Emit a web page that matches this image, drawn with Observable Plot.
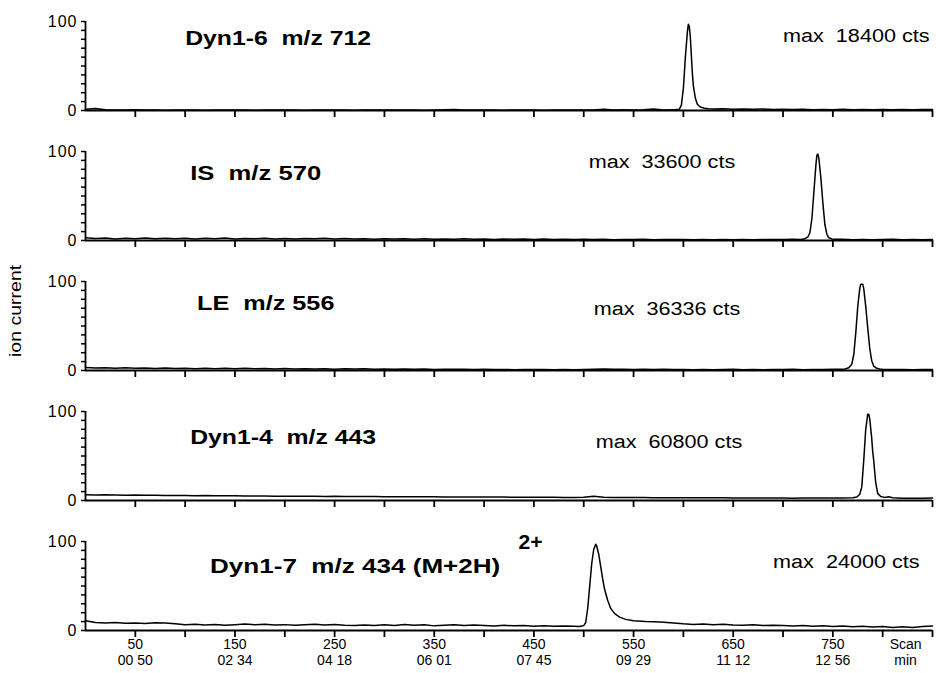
<!DOCTYPE html>
<html>
<head>
<meta charset="utf-8">
<script src="https://cdn.jsdelivr.net/npm/d3@7"></script>
<script src="https://cdn.jsdelivr.net/npm/@observablehq/plot@0.6"></script>
<style>
  body { margin: 0; background: #fff; }
  #chart { width: 936px; }
  #chart svg { display: block; }
  #chart svg text { white-space: pre; }
  g[aria-label="y-axis tick label"] text { letter-spacing: 1px; }
</style>
</head>
<body>
<div id="chart"></div>
<script>
// Scan axis: tick marks every 50 scans, labels with retention time (min sec) every 100
const scanTicks = [50, 100, 150, 200, 250, 300, 350, 400, 450, 500, 550, 600, 650, 700, 750, 800, 850];
const labelledScans = [50, 150, 250, 350, 450, 550, 650, 750];
const timeLabels = ["00 50", "02 34", "04 18", "06 01", "07 45", "09 29", "11 12", "12 56"];
const unitsScan = 823;
const unitLabels = ["Scan", "min"];
const yTicks = [0, 10, 20, 30, 40, 50, 60, 70, 80, 90, 100];

const panelTitles = ["Dyn1-6  m/z 712", "IS  m/z 570", "LE  m/z 556", "Dyn1-4  m/z 443", "Dyn1-7  m/z 434 (M+2H)"];
const chargeLabel = "2+";
const maxLabels = ["max  18400 cts", "max  33600 cts", "max  36336 cts", "max  60800 cts", "max  24000 cts"];
const yLabel = "ion current";

// Baselines sampled every 10 scans (0..850); null where the peak profile takes over
const dyn16Baseline = [
  1.5, 2.2, 0.9, 0.7, 0.5, 0.8, 0.5, 0.6, 0.4, 0.7,
  0.5, 0.6, 0.4, 0.6, 0.5, 0.7, 0.5, 0.4, 0.6, 0.5,
  0.5, 0.6, 0.4, 0.5, 0.7, 0.5, 0.6, 0.4, 0.5, 0.6,
  0.5, 0.7, 0.5, 0.6, 0.4, 0.6, 0.9, 1.1, 0.6, 0.5,
  0.6, 0.5, 0.4, 0.6, 0.5, 0.6, 0.4, 0.6, 0.5, 0.7,
  0.6, 0.5, 1.4, 0.6, 0.8, 0.6, 0.9, 1.6, 0.7, 0.8,
  null, null, null, 1.6, 1.9, 1.4, 1.8, 1.3, 1.7, 1.2,
  1.5, 1.0, 1.4, 0.9, 1.2, 0.8, 1.3, 0.9, 1.1, 0.8,
  1.2, 0.8, 1.0, 0.9, 1.1, 1.0
];
const dyn16Peak = [
  [592, 0.8], [596, 1.5], [598, 6], [600, 25], [602, 60], [604, 88], [605, 97], [606, 94],
  [607, 82], [608, 62], [609, 42], [610, 28], [612, 14], [614, 7], [617, 4], [621, 2.5], [625, 2]
];

const isBaseline = [
  3.0, 2.2, 2.8, 1.8, 2.6, 2.0, 2.7, 1.9, 2.5, 2.1,
  2.6, 1.8, 2.4, 2.0, 2.7, 1.7, 2.3, 2.0, 2.5, 1.8,
  2.2, 1.6, 2.3, 1.9, 2.4, 1.6, 2.2, 1.8, 2.0, 1.5,
  2.1, 1.6, 1.9, 1.4, 2.0, 1.5, 1.8, 1.3, 1.9, 1.4,
  1.7, 1.2, 1.8, 1.3, 1.6, 1.1, 1.7, 1.2, 1.5, 1.1,
  1.4, 1.0, 1.3, 0.9, 1.2, 1.0, 1.3, 0.9, 1.1, 1.0,
  1.2, 0.9, 1.1, 0.8, 1.0, 0.9, 1.1, 0.8, 1.0, 1.2,
  1.1, 1.3, null, null, null, null, 1.3, 0.9, 1.1, 0.8,
  1.0, 1.4, 0.8, 1.2, 0.9, 1.1
];
const isPeak = [
  [718, 1.2], [722, 2], [725, 4], [727, 9], [729, 25], [731, 55], [733, 85], [734, 96], [735, 97],
  [736, 92], [738, 70], [740, 42], [742, 18], [744, 7], [746, 3], [749, 1.8], [752, 1.3]
];

const leBaseline = [
  3.5, 2.8, 3.2, 2.5, 3.0, 2.4, 2.9, 2.2, 2.7, 2.3,
  2.6, 2.0, 2.5, 2.1, 2.6, 1.9, 2.4, 2.0, 2.3, 1.8,
  2.2, 1.7, 2.1, 1.8, 2.0, 1.5, 1.9, 1.6, 2.0, 1.5,
  1.8, 1.4, 1.7, 1.3, 1.6, 1.2, 1.5, 1.3, 1.4, 1.1,
  1.3, 1.0, 1.2, 0.9, 1.1, 1.0, 1.2, 0.8, 1.0, 0.9,
  1.1, 1.4, 1.6, 1.3, 1.5, 1.2, 1.4, 1.1, 1.3, 1.0,
  1.2, 0.9, 1.1, 0.8, 1.0, 1.3, 0.9, 1.1, 0.8, 1.2,
  1.0, 1.3, 0.9, 1.2, 1.0, 1.4, 1.5, null, null, null,
  1.3, 1.0, 1.2, 0.9, 1.1, 1.0
];
const lePeak = [
  [762, 1.6], [766, 3], [769, 7], [771, 18], [773, 42], [775, 72], [777, 92], [778, 97], [780, 97],
  [781, 92], [783, 72], [785, 48], [787, 25], [789, 11], [791, 5], [794, 2.5], [797, 1.6]
];

const dyn14Baseline = [
  6.5, 6.3, 6.4, 6.1, 6.0, 6.1, 5.8, 5.9, 5.7, 5.6,
  5.6, 5.4, 5.5, 5.3, 5.2, 5.3, 5.1, 5.0, 5.1, 4.9,
  4.9, 4.8, 4.8, 4.7, 4.6, 4.7, 4.5, 4.5, 4.4, 4.4,
  4.3, 4.3, 4.2, 4.2, 4.1, 4.1, 4.0, 4.0, 3.9, 3.9,
  3.9, 3.8, 3.8, 3.7, 3.7, 3.7, 3.6, 3.6, 3.5, 3.5,
  3.6, 4.8, 3.6, 3.4, 3.4, 3.3, 3.3, 3.2, 3.2, 3.1,
  3.1, 3.1, 3.0, 3.0, 3.0, 2.9, 2.9, 2.9, 2.8, 2.8,
  2.8, 2.5, 2.9, 2.8, 2.7, 2.7, 2.8, null, null, null,
  null, null, 2.6, 2.5, 2.6, 2.8
];
const dyn14Peak = [
  [770, 3], [774, 4], [777, 7], [779, 15], [781, 45], [783, 80], [785, 97], [786, 97], [787, 92],
  [789, 70], [790, 55], [791, 45], [793, 20], [795, 8], [798, 4.5], [802, 3.5], [806, 4.2], [810, 3.0]
];

const dyn17Baseline = [
  11, 9, 8.5, 9, 8.2, 8.5, 8.0, 8.8, 8.3, 7.5,
  6.5, 7.0, 6.2, 6.8, 6.0, 6.5, 7.2, 6.4, 6.9, 6.1,
  6.6, 5.8, 6.4, 7.0, 6.2, 6.8, 6.0, 5.5, 6.3, 5.7,
  6.4, 5.6, 6.8, 5.9, 6.5, 5.2, 5.8, 6.4, 5.5, 6.2,
  5.6, 5.0, 5.8, 5.2, 5.6, 4.8, 5.3, 4.7, 5.1, 4.8,
  null, null, null, null, null, null, null, null, null, null,
  7.5, 6.8, 7.2, 6.5, 6.9, 6.2, 5.8, 6.4, 5.6, 6.0,
  5.5, 5.0, 5.6, 4.8, 5.2, 4.5, 5.0, 4.2, 4.8, 4.0,
  4.5, 3.5, 4.2, 3.4, 4.5, 5.0
];
const dyn17Peak = [
  [496, 4.6], [500, 5.5], [502, 9], [504, 25], [506, 50], [508, 75], [510, 91], [512, 97], [513, 95],
  [515, 86], [517, 72], [519, 58], [521, 46], [524, 34], [527, 25], [531, 19], [536, 15], [542, 12.5],
  [550, 11], [562, 10], [577, 9.5], [590, 8.5]
];

// Sampling grid of the baselines
const sampleScans = d3.range(0, 851, 10);

function trace(baseline, peak) {
  const pts = sampleScans
    .map((scan, i) => ({scan, value: baseline[i]}))
    .filter(d => d.value != null)
    .concat(peak.map(([scan, value]) => ({scan, value})));
  return pts.sort((a, b) => a.scan - b.scan);
}

const traces = [
  trace(dyn16Baseline, dyn16Peak),
  trace(isBaseline, isPeak),
  trace(leBaseline, lePeak),
  trace(dyn14Baseline, dyn14Peak),
  trace(dyn17Baseline, dyn17Peak)
];

// Text placement inside each panel, in scan / percent units
const titleAt = [[100, 74], [105, 68.5], [112, 68.5], [105, 63], [125, 65]];
const titleStretch = [1.18, 1.22, 1.2, 1.18, 1.24];
const maxAt = [[700, 77.5], [505, 81], [510, 62], [512, 59.5], [690, 70]];
const chargeAt = [434.5, 91.5];
const yLabelAt = [-70, 67];

const FONT = "'Liberation Sans', Arial, Helvetica, sans-serif";

function stretch(svg, cls, k) {
  svg.querySelectorAll(`g.${cls} text`).forEach(t => {
    const w = t.getComputedTextLength();
    t.setAttribute("textLength", (w * k).toFixed(1));
    t.setAttribute("lengthAdjust", "spacingAndGlyphs");
  });
}

const chart = document.getElementById("chart");

traces.forEach((data, i) => {
  const last = i === traces.length - 1;
  const marks = [
    // panel frame: time axis line and intensity axis line
    Plot.ruleY([0], {stroke: "black", strokeWidth: 1.8}),
    Plot.ruleX([0], {stroke: "black", strokeWidth: 1.8}),
    Plot.axisY(yTicks, {
      tickSize: 4, tickPadding: 4, stroke: "black", strokeWidth: 1.5,
      tickFormat: d => (d === 0 || d === 100) ? String(d) : ""
    }),
    Plot.axisX(scanTicks, {tickSize: 7, stroke: "black", strokeWidth: 1.8, tickFormat: () => ""}),
    Plot.line(data, {x: "scan", y: "value", stroke: "black", strokeWidth: 1.5}),
    Plot.text([{x: titleAt[i][0], y: titleAt[i][1], t: panelTitles[i]}], {
      x: "x", y: "y", text: "t", textAnchor: "start", lineAnchor: "bottom",
      fontSize: 21, fontWeight: "bold", className: "ptitle"
    }),
    Plot.text([{x: maxAt[i][0], y: maxAt[i][1], t: maxLabels[i]}], {
      x: "x", y: "y", text: "t", textAnchor: "start", lineAnchor: "bottom",
      fontSize: 18, className: "pmax"
    })
  ];
  if (i === 2) {
    marks.push(Plot.text([{x: yLabelAt[0], y: yLabelAt[1], t: yLabel}], {
      x: "x", y: "y", text: "t", rotate: -90, textAnchor: "middle",
      fontSize: 16, className: "ylab"
    }));
  }
  if (last) {
    marks.push(Plot.text([{x: chargeAt[0], y: chargeAt[1], t: chargeLabel}], {
      x: "x", y: "y", text: "t", textAnchor: "start", lineAnchor: "bottom",
      fontSize: 20, fontWeight: "bold", className: "pcharge"
    }));
    // two label rows under the last panel: scan number, then retention time
    marks.push(Plot.axisX([...labelledScans, unitsScan], {
      tickSize: 0, tickPadding: 9, fontSize: 14, className: "scanrow",
      tickFormat: d => d === unitsScan ? unitLabels[0] : String(d)
    }));
    marks.push(Plot.axisX([...labelledScans, unitsScan], {
      tickSize: 0, tickPadding: 25, fontSize: 14, className: "timerow",
      tickFormat: d => d === unitsScan ? unitLabels[1] : timeLabels[labelledScans.indexOf(d)]
    }));
  }
  const svg = Plot.plot({
    width: 936,
    height: last ? 153 : 130,
    marginTop: 21,
    marginBottom: last ? 43 : 20,
    marginLeft: 85,
    marginRight: 4,
    x: {domain: [0, 850], axis: null},
    y: {domain: [0, 100], axis: null},
    style: {fontFamily: FONT, fontSize: "16px", color: "black", background: "white", overflow: "visible"},
    marks
  });
  chart.appendChild(svg);
  stretch(svg, "ptitle", titleStretch[i]);
  stretch(svg, "pmax", 1.2);
  stretch(svg, "ylab", 1.22);
  stretch(svg, "pcharge", 1.05);
});
</script>
</body>
</html>
